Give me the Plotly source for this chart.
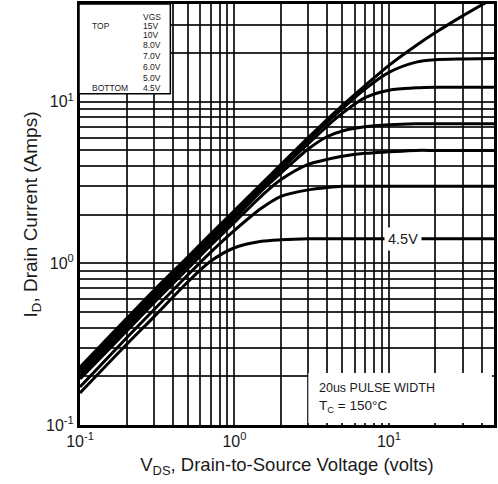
import plotly.graph_objects as go

# Drain-to-source voltage sample points (V)
vds = [0.1, 0.2, 0.3, 0.5, 0.7, 1.0, 1.5, 2.0, 3.0, 4.0, 5.0, 7.0, 10.0, 15.0, 20.0, 30.0, 48.0]

# Drain current (A) for each gate voltage
id_15v = [0.228, 0.455, 0.68, 1.1, 1.52, 2.12, 3.12, 4.1, 6.0, 7.8, 9.5, 12.6, 16.8, 22.3, 26.8, 34.0, 44.0]
id_10v = [0.22, 0.44, 0.65, 1.06, 1.47, 2.05, 3.02, 3.97, 5.8, 7.5, 9.1, 12.0, 15.2, 17.6, 18.2, 18.4, 18.5]
id_8v = [0.211, 0.42, 0.625, 1.02, 1.42, 1.97, 2.92, 3.82, 5.5, 7.1, 8.5, 10.6, 11.8, 12.2, 12.3, 12.3, 12.3]
id_7v = [0.202, 0.40, 0.60, 0.98, 1.36, 1.9, 2.82, 3.62, 5.1, 6.1, 6.6, 7.0, 7.2, 7.3, 7.3, 7.3, 7.3]
id_6v = [0.193, 0.38, 0.57, 0.93, 1.29, 1.8, 2.62, 3.3, 4.1, 4.4, 4.6, 4.8, 4.9, 5.0, 5.0, 5.0, 5.0]
id_5v = [0.172, 0.345, 0.515, 0.85, 1.17, 1.6, 2.2, 2.6, 2.85, 2.95, 3.0, 3.0, 3.0, 3.0, 3.0, 3.0, 3.0]
id_4v5 = [0.158, 0.315, 0.465, 0.77, 1.03, 1.25, 1.37, 1.4, 1.42, 1.42, 1.42, 1.42, 1.42, 1.42, 1.42, 1.42, 1.42]

curves = [id_15v, id_10v, id_8v, id_7v, id_6v, id_5v, id_4v5]

# Legend text
vgs_header = "VGS"
vgs_labels = ["15V", "10V", "8.0V", "7.0V", "6.0V", "5.0V", "4.5V"]

# Grid values for both log axes (one line at each 1..9 x decade)
x_grid = [m * 10 ** e for e in (-1, 0, 1) for m in range(1, 10) if m * 10 ** e <= 50]
y_grid = [m * 10 ** e for e in (-1, 0, 1) for m in range(1, 10) if m * 10 ** e <= 40]
decade_text = {0.1: "10<sup>-1</sup>", 1: "10<sup>0</sup>", 10: "10<sup>1</sup>"}
x_text = [decade_text.get(v, "") for v in x_grid]
y_text = [decade_text.get(v, "") for v in y_grid]

FONT = "Liberation Sans, Arial, sans-serif"
INK = "#1a1a1a"

# plot area in pixels: x 80..497, y 3..425
def px(x):
    return (x - 80) / 417.0

def py(y):
    return (425 - y) / 422.0

fig = go.Figure()
for ids in curves:
    fig.add_trace(go.Scatter(
        x=vds, y=ids, mode="lines",
        line=dict(color="black", width=3, shape="spline", smoothing=0.8),
        showlegend=False, hoverinfo="skip",
    ))

grid_style = dict(showgrid=True, gridcolor="rgba(0,0,0,0.82)", gridwidth=2,
                  zeroline=False, showline=True, linecolor="black", linewidth=3,
                  mirror=True, ticks="", tickfont=dict(family=FONT, size=16, color=INK))

fig.update_xaxes(type="log", range=[-1, 1.68], tickmode="array",
                 tickvals=x_grid, ticktext=x_text,
                 title=dict(text="V<sub>DS</sub>, Drain-to-Source Voltage (volts)",
                            font=dict(family=FONT, size=18.5, color=INK), standoff=9),
                 **grid_style)
fig.update_yaxes(type="log", range=[-1, 1.605], tickmode="array",
                 tickvals=y_grid, ticktext=y_text,
                 title=dict(text="I<sub>D</sub>, Drain Current (Amps)",
                            font=dict(family=FONT, size=19, color=INK), standoff=4),
                 **grid_style)

# VGS legend box in the upper-left corner
fig.add_shape(type="rect", xref="paper", yref="paper", x0=px(79), x1=px(171),
              y0=py(93), y1=py(3), fillcolor="white",
              line=dict(color="black", width=1.5), layer="above")
legend_rows = [16, 25, 34, 44, 55, 66, 77, 87]
for label, row in zip([vgs_header] + vgs_labels, legend_rows):
    fig.add_annotation(xref="paper", yref="paper", x=px(141), y=py(row), xanchor="left",
                       yanchor="middle", showarrow=False, text=label,
                       font=dict(family=FONT, size=8.5, color=INK))
fig.add_annotation(xref="paper", yref="paper", x=px(90), y=py(25), xanchor="left",
                   yanchor="middle", showarrow=False, text="TOP",
                   font=dict(family=FONT, size=8.5, color=INK))
fig.add_annotation(xref="paper", yref="paper", x=px(90), y=py(87), xanchor="left",
                   yanchor="middle", showarrow=False, text="BOTTOM",
                   font=dict(family=FONT, size=8.5, color=INK))

# Bottom curve label (annotation coordinates are log10 on log axes)
fig.add_annotation(x=1.09, y=0.148, xref="x", yref="y", text="4.5V", showarrow=False,
                   bgcolor="white", borderpad=3,
                   font=dict(family=FONT, size=14.5, color=INK))

# Test conditions, on a cleared patch in the lower-right corner
fig.add_shape(type="rect", xref="paper", yref="paper", x0=px(310), x1=px(495),
              y0=py(423), y1=py(373), fillcolor="white", line=dict(width=0),
              layer="above")
fig.add_annotation(xref="paper", yref="paper", x=px(319), y=py(388), xanchor="left",
                   yanchor="middle", showarrow=False, text="20us PULSE WIDTH",
                   font=dict(family=FONT, size=12.5, color=INK))
fig.add_annotation(xref="paper", yref="paper", x=px(319), y=py(406), xanchor="left",
                   yanchor="middle", showarrow=False, text="T<sub>C</sub> = 150°C",
                   font=dict(family=FONT, size=13.5, color=INK))

fig.update_layout(width=498, height=484, margin=dict(l=80, r=1, t=3, b=59),
                  plot_bgcolor="white", paper_bgcolor="white")

fig.write_html("out.html")
